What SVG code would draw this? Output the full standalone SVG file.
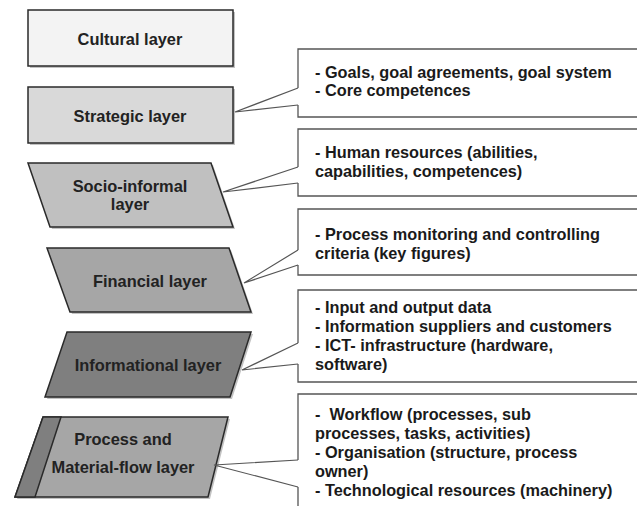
<svg xmlns="http://www.w3.org/2000/svg" width="637" height="506" viewBox="0 0 637 506">
<style>
.lay{stroke:#2a2a2a;stroke-width:1.5;stroke-linejoin:miter}
.sh{fill:#9a9a9a;opacity:0.6}
.lbl{font-family:"Liberation Sans",Arial,sans-serif;font-weight:bold;font-size:16.4px;fill:#222;text-anchor:middle}
.box{fill:none;stroke:#555;stroke-width:1.3}
.txt{font-family:"Liberation Sans",Arial,sans-serif;font-weight:bold;font-size:16.3px;fill:#1a1a1a}
.con{fill:none;stroke:#555;stroke-width:1.2}
</style>
<rect width="637" height="506" fill="#ffffff"/>
<g id="cultural">
<rect class="sh" x="30" y="12" width="205" height="56"/>
<rect class="lay" x="28" y="10" width="205" height="56" fill="#f3f3f3"/>
<text class="lbl" x="130" y="45">Cultural layer</text>
</g>
<g id="strategic">
<rect class="sh" x="30" y="89" width="205" height="56"/>
<rect class="lay" x="28" y="87" width="205" height="56" fill="#d9d9d9"/>
<text class="lbl" x="130" y="122">Strategic layer</text>
</g>
<g id="socio">
<polygon class="sh" points="30,165 213,165 235,229 52,229"/>
<polygon class="lay" points="28,163 211,163 233,227 50,227" fill="#c0c0c0"/>
<text class="lbl" x="130" y="192">Socio-informal</text>
<text class="lbl" x="130" y="210">layer</text>
</g>
<g id="financial">
<polygon class="sh" points="49,250 231,250 253,314 72,314"/>
<polygon class="lay" points="47,248 229,248 251,312 70,312" fill="#a6a6a6"/>
<text class="lbl" x="150" y="287">Financial layer</text>
</g>
<g id="informational">
<polygon class="sh" points="69,334 253,334 232,399 47,399"/>
<polygon class="lay" points="67,332 251,332 230,397 45,397" fill="#7f7f7f"/>
<text class="lbl" x="148" y="371">Informational layer</text>
</g>
<g id="process">
<polygon class="sh" points="45,419 230,419 210,499 17,499"/>
<polygon class="lay" points="43,417 228,417 208,497 15,497" fill="#a6a6a6"/>
<polygon class="lay" points="43,417 61,417 35,497 15,497" fill="#7f7f7f"/>
<text class="lbl" x="123" y="445">Process and</text>
<text class="lbl" x="123" y="473">Material-flow layer</text>
</g>
<g id="callout-strategic">
<path class="box" d="M637,49 H298 V88 M298,105 V117 H637"/>
<text class="txt" x="315" y="78">- Goals, goal agreements, goal system</text>
<text class="txt" x="315" y="96">- Core competences</text>
</g>
<g id="callout-socio">
<path class="box" d="M637,129 H298 V167 M298,183 V196 H637"/>
<text class="txt" x="315" y="158">- Human resources (abilities,</text>
<text class="txt" x="315" y="177">capabilities, competences)</text>
</g>
<g id="callout-financial">
<path class="box" d="M637,209 H298 V250 M298,265 V275 H637"/>
<text class="txt" x="315" y="240">- Process monitoring and controlling</text>
<text class="txt" x="315" y="259">criteria (key figures)</text>
</g>
<g id="callout-informational">
<path class="box" d="M637,290 H298 V343 M298,364 V382 H637"/>
<text class="txt" x="315" y="313">- Input and output data</text>
<text class="txt" x="315" y="332">- Information suppliers and customers</text>
<text class="txt" x="315" y="351">- ICT- infrastructure (hardware,</text>
<text class="txt" x="315" y="370">software)</text>
</g>
<g id="callout-process">
<path class="box" d="M637,394 H298 V460 M298,487 V506"/>
<text class="txt" x="315" y="420" xml:space="preserve">-  Workflow (processes, sub</text>
<text class="txt" x="315" y="439">processes, tasks, activities)</text>
<text class="txt" x="315" y="458">- Organisation (structure, process</text>
<text class="txt" x="315" y="477">owner)</text>
<text class="txt" x="315" y="496">- Technological resources (machinery)</text>
</g>
<g id="connectors">
<polyline class="con" points="298,88 235,112 298,105"/>
<polyline class="con" points="298,167 223,192 298,183"/>
<polyline class="con" points="298,250 244,283 298,265"/>
<polyline class="con" points="298,343 242,370 298,364"/>
<polyline class="con" points="298,460 214,465 298,487"/>
</g>
</svg>
